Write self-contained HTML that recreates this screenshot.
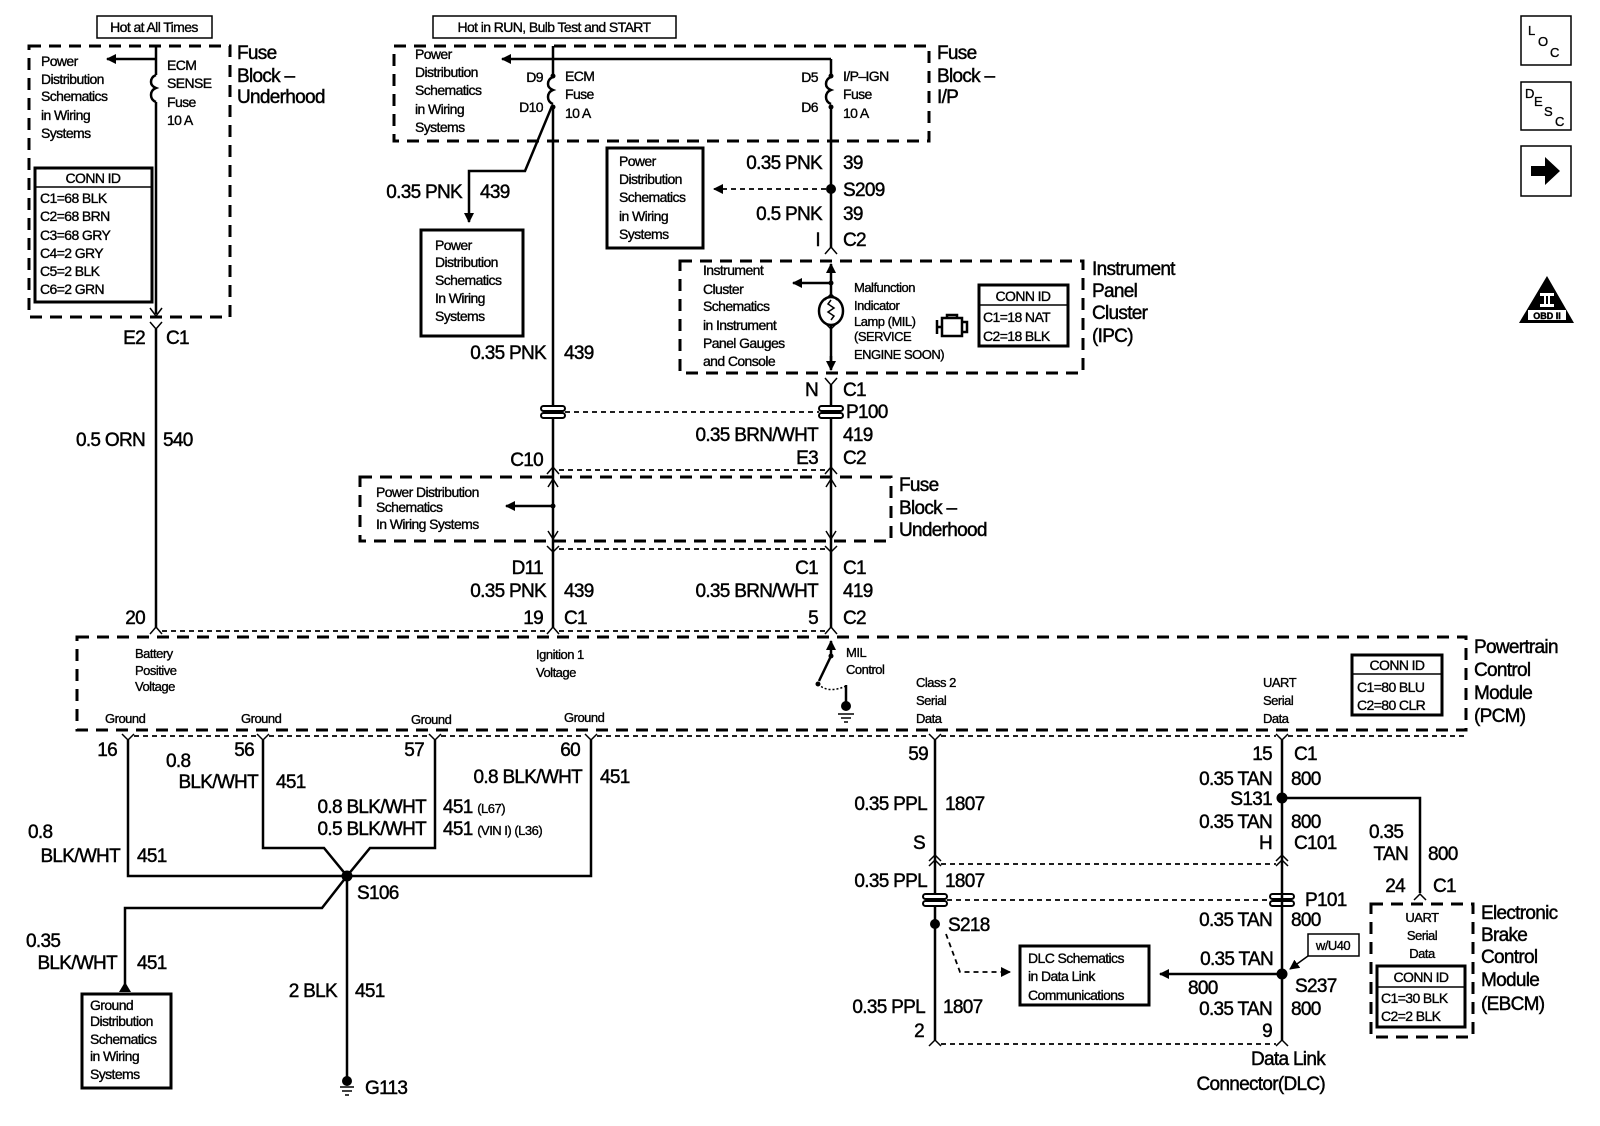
<!DOCTYPE html>
<html><head><meta charset="utf-8"><style>
html,body{margin:0;padding:0;background:#fff}
svg{display:block}
text{font-family:"Liberation Sans",Arial,sans-serif;fill:#000;stroke:#000;stroke-width:0.45px}
.L{font-size:19px;letter-spacing:-0.7px}
.S{font-size:14px;letter-spacing:-0.6px;stroke-width:0.35px}
.M{font-size:13px;letter-spacing:-0.5px;stroke-width:0.35px}
.w{stroke:#000;stroke-width:2.5;fill:none}
.t{stroke:#000;stroke-width:1.5;fill:none}
.db{stroke:#000;stroke-width:3;fill:none;stroke-dasharray:12 8}
.dl{stroke:#000;stroke-width:1.8;fill:none;stroke-dasharray:5 4}
.bx{stroke:#000;stroke-width:3;fill:#fff}
</style></head><body>
<svg width="1600" height="1126" viewBox="0 0 1600 1126" xmlns="http://www.w3.org/2000/svg">
<defs>
<marker id="ar" markerWidth="10" markerHeight="10" refX="9" refY="5" orient="auto" markerUnits="userSpaceOnUse"><path d="M0,0 L10,5 L0,10 z" fill="#000"/></marker>
</defs>

<rect x="97" y="16" width="115" height="22" class="t" stroke-width="2.5"/>
<text x="154" y="32" class="S" text-anchor="middle">Hot at All Times</text>
<rect x="433" y="16" width="243" height="22" class="t" stroke-width="2.5"/>
<text x="554" y="32" class="S" text-anchor="middle">Hot in RUN, Bulb Test and START</text>

<rect x="29" y="46" width="201" height="271" class="db"/>
<text x="237" y="59" class="L">Fuse</text>
<text x="237" y="82" class="L">Block –</text>
<text x="237" y="103" class="L">Underhood</text>
<text class="S"><tspan x="41" y="66">Power</tspan><tspan x="41" y="84">Distribution</tspan><tspan x="41" y="101">Schematics</tspan><tspan x="41" y="120">in Wiring</tspan><tspan x="41" y="138">Systems</tspan></text>
<text class="S"><tspan x="167" y="70">ECM</tspan><tspan x="167" y="88">SENSE</tspan><tspan x="167" y="107">Fuse</tspan><tspan x="167" y="125">10 A</tspan></text>
<path class="w" d="M156,46 V75 M156,102 V314"/>
<path class="w" d="M156,75 q-5,2 -5,7 q0,4 5,6 q-5,2 -5,7 q0,5 5,7"/>
<path class="w" d="M156,59 H107" marker-end="url(#ar)"/>
<path class="t" d="M150,308 L156,316 L162,308"/>
<rect x="35" y="168" width="117" height="134" class="bx"/>
<line x1="35" y1="187" x2="152" y2="187" class="t" stroke-width="2"/>
<text x="93" y="183" class="S" text-anchor="middle">CONN ID</text>
<text class="S"><tspan x="40" y="203">C1=68 BLK</tspan><tspan x="40" y="221">C2=68 BRN</tspan><tspan x="40" y="240">C3=68 GRY</tspan><tspan x="40" y="258">C4=2 GRY</tspan><tspan x="40" y="276">C5=2 BLK</tspan><tspan x="40" y="294">C6=2 GRN</tspan></text>
<path class="t" d="M150,322 L156,329 L162,322"/>
<text x="145" y="344" class="L" text-anchor="end">E2</text>
<text x="166" y="344" class="L">C1</text>
<path class="w" d="M156,329 V628"/>
<text x="145" y="446" class="L" text-anchor="end">0.5 ORN</text>
<text x="163" y="446" class="L">540</text>
<text x="145" y="624" class="L" text-anchor="end">20</text>

<rect x="394" y="46" width="535" height="95" class="db"/>
<text x="937" y="59" class="L">Fuse</text>
<text x="937" y="82" class="L">Block –</text>
<text x="937" y="103" class="L">I/P</text>
<text class="S"><tspan x="415" y="59">Power</tspan><tspan x="415" y="77">Distribution</tspan><tspan x="415" y="95">Schematics</tspan><tspan x="415" y="114">in Wiring</tspan><tspan x="415" y="132">Systems</tspan></text>
<path class="w" d="M831,59 H553" />
<path class="w" d="M553,59 H502" marker-end="url(#ar)"/>
<path class="w" d="M553,46 V77 M553,107 V411 M553,416 V628"/>
<path class="w" d="M553,77 q-5,2 -5,7 q0,4 5,6 q-5,2 -5,7 q0,5 5,7"/>
<circle cx="553" cy="76" r="2.5"/><circle cx="553" cy="107" r="2.5"/>
<text x="543" y="82" class="S" text-anchor="end">D9</text>
<text x="543" y="112" class="S" text-anchor="end">D10</text>
<text class="S"><tspan x="565" y="81">ECM</tspan><tspan x="565" y="99">Fuse</tspan><tspan x="565" y="118">10 A</tspan></text>
<path class="w" d="M831,59 V77 M831,107 V248"/>
<path class="w" d="M831,77 q-5,2 -5,7 q0,4 5,6 q-5,2 -5,7 q0,5 5,7"/>
<circle cx="831" cy="76" r="2.5"/><circle cx="831" cy="107" r="2.5"/>
<text x="818" y="82" class="S" text-anchor="end">D5</text>
<text x="818" y="112" class="S" text-anchor="end">D6</text>
<text class="S"><tspan x="843" y="81">I/P–IGN</tspan><tspan x="843" y="99">Fuse</tspan><tspan x="843" y="118">10 A</tspan></text>

<path class="w" d="M552,106 L525,171 H469 V222" marker-end="url(#ar)"/>
<text x="462" y="198" class="L" text-anchor="end">0.35 PNK</text>
<text x="480" y="198" class="L">439</text>
<rect x="421" y="230" width="102" height="106" class="bx"/>
<text class="S"><tspan x="435" y="250">Power</tspan><tspan x="435" y="267">Distribution</tspan><tspan x="435" y="285">Schematics</tspan><tspan x="435" y="303">In Wiring</tspan><tspan x="435" y="321">Systems</tspan></text>
<text x="546" y="359" class="L" text-anchor="end">0.35 PNK</text>
<text x="564" y="359" class="L">439</text>

<text x="822" y="169" class="L" text-anchor="end">0.35 PNK</text>
<text x="843" y="169" class="L">39</text>
<circle cx="831" cy="189" r="5"/>
<text x="843" y="196" class="L">S209</text>
<path class="dl" d="M826,189 H714" marker-end="url(#ar)"/>
<rect x="607" y="148" width="96" height="100" class="bx"/>
<text class="S"><tspan x="619" y="166">Power</tspan><tspan x="619" y="184">Distribution</tspan><tspan x="619" y="202">Schematics</tspan><tspan x="619" y="221">in Wiring</tspan><tspan x="619" y="239">Systems</tspan></text>
<text x="822" y="220" class="L" text-anchor="end">0.5 PNK</text>
<text x="843" y="220" class="L">39</text>
<text x="820" y="246" class="L" text-anchor="end">I</text>
<text x="843" y="246" class="L">C2</text>
<path class="t" d="M825,254 L831,247 L837,254"/>

<rect x="680" y="261" width="403" height="112" class="db"/>
<text class="L"><tspan x="1092" y="275">Instrument</tspan><tspan x="1092" y="297">Panel</tspan><tspan x="1092" y="319">Cluster</tspan><tspan x="1092" y="342">(IPC)</tspan></text>
<text class="S"><tspan x="703" y="275">Instrument</tspan><tspan x="703" y="294">Cluster</tspan><tspan x="703" y="311">Schematics</tspan><tspan x="703" y="330">in Instrument</tspan><tspan x="703" y="348">Panel Gauges</tspan><tspan x="703" y="366">and Console</tspan></text>
<path class="w" d="M831,283 V264" marker-end="url(#ar)"/>
<path class="w" d="M831,283 H793" marker-end="url(#ar)"/>
<circle cx="831" cy="283" r="2.5"/>
<path class="t" d="M825,300 L831,294 L837,300"/>
<path class="w" d="M831,283 V297 M831,325 V368" />
<path class="w" d="M831,356 V370" marker-end="url(#ar)"/>
<ellipse cx="831" cy="311" rx="12" ry="14" class="w"/>
<path class="t" d="M831,300 l-3,4 l6,4 l-6,4 l6,4 l-3,4"/>
<path class="t" d="M825,323 L831,329 L837,323"/>
<text class="M"><tspan x="854" y="292">Malfunction</tspan><tspan x="854" y="310">Indicator</tspan><tspan x="854" y="326">Lamp (MIL)</tspan><tspan x="854" y="341">(SERVICE</tspan><tspan x="854" y="359">ENGINE SOON)</tspan></text>
<path class="w" stroke-width="2.2" d="M937,320 v14 M937,327 h5 M942,318 h20 v18 h-20 z M947,318 v-3 h10 v3 M962,322 h5 v10 h-5"/>
<rect x="979" y="285" width="89" height="61" class="bx"/>
<line x1="979" y1="305" x2="1068" y2="305" class="t" stroke-width="2"/>
<text x="1023" y="301" class="S" text-anchor="middle">CONN ID</text>
<text class="S"><tspan x="983" y="322">C1=18 NAT</tspan><tspan x="983" y="341">C2=18 BLK</tspan></text>

<text x="818" y="396" class="L" text-anchor="end">N</text>
<path class="t" d="M825,378 L831,385 L837,378"/>
<path class="w" d="M831,385 V628"/>
<text x="843" y="396" class="L">C1</text>
<g stroke="#000" stroke-width="2" fill="#fff">
<rect x="541" y="406" width="24" height="5" rx="2.5"/><rect x="541" y="413" width="24" height="5" rx="2.5"/>
<rect x="819" y="406" width="24" height="5" rx="2.5"/><rect x="819" y="413" width="24" height="5" rx="2.5"/>
</g>
<path class="dl" d="M565,412 H819"/>
<text x="846" y="418" class="L">P100</text>
<text x="818" y="441" class="L" text-anchor="end">0.35 BRN/WHT</text>
<text x="843" y="441" class="L">419</text>
<text x="543" y="466" class="L" text-anchor="end">C10</text>
<text x="818" y="464" class="L" text-anchor="end">E3</text>
<text x="843" y="464" class="L">C2</text>
<path class="t" d="M547,474 L553,467 L559,474 M825,474 L831,467 L837,474"/>
<path class="dl" d="M559,470 H825"/>

<rect x="360" y="477" width="531" height="64" class="db"/>
<text class="L"><tspan x="899" y="491">Fuse</tspan><tspan x="899" y="514">Block –</tspan><tspan x="899" y="536">Underhood</tspan></text>
<text class="S"><tspan x="376" y="497">Power Distribution</tspan><tspan x="376" y="512">Schematics</tspan><tspan x="376" y="529">In Wiring Systems</tspan></text>
<path class="t" d="M548,487 L553,479 L558,487 M548,531 L553,539 L558,531 M826,487 L831,479 L836,487 M826,531 L831,539 L836,531"/>
<path class="w" d="M553,506 H506" marker-end="url(#ar)"/>
<circle cx="553" cy="506" r="2.5"/>
<path class="t" d="M547,546 L553,552 L559,546 M825,546 L831,552 L837,546"/>
<path class="dl" d="M559,549 H825"/>
<text x="543" y="574" class="L" text-anchor="end">D11</text>
<text x="818" y="574" class="L" text-anchor="end">C1</text>
<text x="843" y="574" class="L">C1</text>
<text x="546" y="597" class="L" text-anchor="end">0.35 PNK</text>
<text x="564" y="597" class="L">439</text>
<text x="818" y="597" class="L" text-anchor="end">0.35 BRN/WHT</text>
<text x="843" y="597" class="L">419</text>
<text x="543" y="624" class="L" text-anchor="end">19</text>
<text x="564" y="624" class="L">C1</text>
<text x="818" y="624" class="L" text-anchor="end">5</text>
<text x="843" y="624" class="L">C2</text>
<path class="t" d="M150,634 L156,627 L162,634 M547,634 L553,627 L559,634 M825,634 L831,627 L837,634"/>
<path class="dl" d="M162,631 H547 M559,631 H825"/>

<rect x="77" y="637" width="1389" height="93" class="db"/>
<text class="L"><tspan x="1474" y="653">Powertrain</tspan><tspan x="1474" y="676">Control</tspan><tspan x="1474" y="699">Module</tspan><tspan x="1474" y="722">(PCM)</tspan></text>
<text class="M"><tspan x="135" y="658">Battery</tspan><tspan x="135" y="675">Positive</tspan><tspan x="135" y="691">Voltage</tspan></text>
<text class="M"><tspan x="536" y="659">Ignition 1</tspan><tspan x="536" y="677">Voltage</tspan></text>
<text class="M"><tspan x="846" y="657">MIL</tspan><tspan x="846" y="674">Control</tspan></text>
<text class="M"><tspan x="916" y="687">Class 2</tspan><tspan x="916" y="705">Serial</tspan><tspan x="916" y="723">Data</tspan></text>
<text class="M"><tspan x="1263" y="687">UART</tspan><tspan x="1263" y="705">Serial</tspan><tspan x="1263" y="723">Data</tspan></text>
<text class="M" x="105" y="723">Ground</text>
<text class="M" x="241" y="723">Ground</text>
<text class="M" x="411" y="724">Ground</text>
<text class="M" x="564" y="722">Ground</text>
<path class="w" d="M831,654 V641" marker-end="url(#ar)"/>
<circle cx="831" cy="656" r="2.5"/>
<path class="w" d="M831,656 L819,681" />
<circle cx="818" cy="684" r="2.5"/>
<path class="t" stroke-dasharray="2 2" d="M818,684 q10,10 28,2"/>
<path class="w" d="M846,685 V705"/>
<circle cx="846" cy="706" r="5"/>
<path class="t" d="M838,714 h16 M841,718 h10 M844,722 h4"/>
<rect x="1352" y="655" width="90" height="60" class="bx"/>
<line x1="1352" y1="674" x2="1442" y2="674" class="t" stroke-width="2"/>
<text x="1397" y="670" class="S" text-anchor="middle">CONN ID</text>
<text class="S"><tspan x="1357" y="692">C1=80 BLU</tspan><tspan x="1357" y="710">C2=80 CLR</tspan></text>

<path class="t" d="M122,734 L128,740 L134,734 M257,734 L263,740 L269,734 M429,734 L435,740 L441,734 M585,734 L591,740 L597,734 M929,734 L935,740 L941,734 M1276,734 L1282,740 L1288,734"/>
<path class="dl" d="M134,736 H257 M269,736 H429 M441,736 H585 M597,736 H929 M941,736 H1276 M1288,736 H1466"/>
<path class="w" d="M128,740 V876 H591 V740"/>
<path class="w" d="M263,740 V848 H324 L347,876 L370,848 H435 V740"/>
<text x="117" y="756" class="L" text-anchor="end">16</text>
<text x="254" y="756" class="L" text-anchor="end">56</text>
<text x="424" y="756" class="L" text-anchor="end">57</text>
<text x="580" y="756" class="L" text-anchor="end">60</text>
<text x="166" y="767" class="L">0.8</text>
<text x="258" y="788" class="L" text-anchor="end">BLK/WHT</text>
<text x="276" y="788" class="L">451</text>
<text x="582" y="783" class="L" text-anchor="end">0.8 BLK/WHT</text>
<text x="600" y="783" class="L">451</text>
<text x="426" y="813" class="L" text-anchor="end">0.8 BLK/WHT</text>
<text x="443" y="813" class="L">451 <tspan class="M">(L67)</tspan></text>
<text x="426" y="835" class="L" text-anchor="end">0.5 BLK/WHT</text>
<text x="443" y="835" class="L">451 <tspan class="M">(VIN I) (L36)</tspan></text>
<text x="28" y="838" class="L">0.8</text>
<text x="120" y="862" class="L" text-anchor="end">BLK/WHT</text>
<text x="137" y="862" class="L">451</text>
<circle cx="347" cy="876" r="5.5"/>
<text x="357" y="899" class="L">S106</text>
<path class="w" d="M347,876 L322,908 H125 V987"/>
<path d="M119,992 L125,982 L131,992 z" fill="#000"/>
<text x="26" y="947" class="L">0.35</text>
<text x="117" y="969" class="L" text-anchor="end">BLK/WHT</text>
<text x="137" y="969" class="L">451</text>
<rect x="82" y="994" width="89" height="94" class="bx"/>
<text class="S"><tspan x="90" y="1010">Ground</tspan><tspan x="90" y="1026">Distribution</tspan><tspan x="90" y="1044">Schematics</tspan><tspan x="90" y="1061">in Wiring</tspan><tspan x="90" y="1079">Systems</tspan></text>
<path class="w" d="M347,876 V1080"/>
<text x="337" y="997" class="L" text-anchor="end">2 BLK</text>
<text x="355" y="997" class="L">451</text>
<circle cx="347" cy="1081" r="5"/>
<path class="t" d="M340,1087 h14 M342,1091 h10 M345,1095 h4"/>
<text x="365" y="1094" class="L">G113</text>

<path class="w" d="M935,740 V1040"/>
<text x="928" y="760" class="L" text-anchor="end">59</text>
<text x="927" y="810" class="L" text-anchor="end">0.35 PPL</text>
<text x="945" y="810" class="L">1807</text>
<text x="925" y="849" class="L" text-anchor="end">S</text>
<path class="t" d="M929,861 L935,855 L941,861 M929,866 L935,860 L941,866 M1276,861 L1282,855 L1288,861 M1276,866 L1282,860 L1288,866"/>
<path class="dl" d="M941,864 H1276"/>
<text x="927" y="887" class="L" text-anchor="end">0.35 PPL</text>
<text x="945" y="887" class="L">1807</text>
<g stroke="#000" stroke-width="2" fill="#fff">
<rect x="923" y="894" width="24" height="5" rx="2.5"/><rect x="923" y="901" width="24" height="5" rx="2.5"/>
<rect x="1270" y="894" width="24" height="5" rx="2.5"/><rect x="1270" y="901" width="24" height="5" rx="2.5"/>
</g>
<path class="dl" d="M947,900 H1270"/>
<text x="1305" y="906" class="L">P101</text>
<circle cx="935" cy="924" r="5"/>
<text x="948" y="931" class="L">S218</text>
<path class="dl" d="M946,934 L960,972 H1010" marker-end="url(#ar)"/>
<rect x="1020" y="946" width="129" height="59" class="bx"/>
<text class="S"><tspan x="1028" y="963">DLC Schematics</tspan><tspan x="1028" y="981">in Data Link</tspan><tspan x="1028" y="1000">Communications</tspan></text>
<text x="925" y="1013" class="L" text-anchor="end">0.35 PPL</text>
<text x="943" y="1013" class="L">1807</text>
<text x="924" y="1037" class="L" text-anchor="end">2</text>
<path class="t" d="M929,1046 L935,1040 L941,1046 M1276,1046 L1282,1040 L1288,1046"/>
<path class="dl" d="M941,1044 H1276"/>

<path class="w" d="M1282,740 V1040"/>
<text x="1272" y="760" class="L" text-anchor="end">15</text>
<text x="1294" y="760" class="L">C1</text>
<text x="1272" y="785" class="L" text-anchor="end">0.35 TAN</text>
<text x="1291" y="785" class="L">800</text>
<circle cx="1282" cy="798" r="5.5"/>
<text x="1272" y="805" class="L" text-anchor="end">S131</text>
<text x="1272" y="828" class="L" text-anchor="end">0.35 TAN</text>
<text x="1291" y="828" class="L">800</text>
<text x="1272" y="849" class="L" text-anchor="end">H</text>
<text x="1294" y="849" class="L">C101</text>
<path class="w" d="M1282,798 H1420 V893"/>
<text x="1369" y="838" class="L">0.35</text>
<text x="1408" y="860" class="L" text-anchor="end">TAN</text>
<text x="1428" y="860" class="L">800</text>
<text x="1405" y="892" class="L" text-anchor="end">24</text>
<text x="1433" y="892" class="L">C1</text>
<path class="t" d="M1414,900 L1420,894 L1426,900"/>
<rect x="1371" y="904" width="102" height="133" class="db"/>
<text class="L"><tspan x="1481" y="919">Electronic</tspan><tspan x="1481" y="941">Brake</tspan><tspan x="1481" y="963">Control</tspan><tspan x="1481" y="986">Module</tspan><tspan x="1481" y="1010">(EBCM)</tspan></text>
<text class="M" text-anchor="middle"><tspan x="1422" y="922">UART</tspan><tspan x="1422" y="940">Serial</tspan><tspan x="1422" y="958">Data</tspan></text>
<rect x="1377" y="966" width="88" height="61" class="bx"/>
<line x1="1377" y1="987" x2="1465" y2="987" class="t" stroke-width="2"/>
<text x="1421" y="982" class="S" text-anchor="middle">CONN ID</text>
<text class="S"><tspan x="1381" y="1003">C1=30 BLK</tspan><tspan x="1381" y="1021">C2=2 BLK</tspan></text>
<text x="1272" y="926" class="L" text-anchor="end">0.35 TAN</text>
<text x="1291" y="926" class="L">800</text>
<rect x="1308" y="934" width="51" height="22" class="t" stroke-width="2"/>
<text x="1333" y="950" class="M" text-anchor="middle">w/U40</text>
<path class="t" stroke-width="2" d="M1308,956 L1290,969" marker-end="url(#ar)"/>
<text x="1273" y="965" class="L" text-anchor="end">0.35 TAN</text>
<circle cx="1282" cy="974" r="5.5"/>
<path class="w" stroke-width="3.5" d="M1282,974 H1160" marker-end="url(#ar)"/>
<text x="1295" y="992" class="L">S237</text>
<text x="1188" y="994" class="L">800</text>
<text x="1272" y="1015" class="L" text-anchor="end">0.35 TAN</text>
<text x="1291" y="1015" class="L">800</text>
<text x="1272" y="1037" class="L" text-anchor="end">9</text>
<text x="1325" y="1065" class="L" text-anchor="end">Data Link</text>
<text x="1325" y="1090" class="L" text-anchor="end">Connector(DLC)</text>

<rect x="1521" y="16" width="50" height="49" class="t" stroke-width="3"/>
<text x="1528" y="35" class="M">L</text><text x="1538" y="46" class="M">O</text><text x="1550" y="57" class="M">C</text>
<rect x="1521" y="82" width="50" height="48" class="t" stroke-width="3"/>
<text x="1525" y="98" class="M">D</text><text x="1534" y="106" class="M">E</text><text x="1544" y="116" class="M">S</text><text x="1555" y="126" class="M">C</text>
<rect x="1521" y="146" width="50" height="50" class="t" stroke-width="3"/>
<path d="M1531,166 h14 v-9 l15,14 l-15,14 v-9 h-14 z" fill="#000"/>
<path d="M1547,276 L1574,323 L1519,323 z" fill="#000"/>
<rect x="1540" y="293" width="14" height="3" fill="#fff"/><rect x="1540" y="304" width="14" height="3" fill="#fff"/>
<rect x="1544" y="293" width="2" height="14" fill="#fff"/><rect x="1548" y="293" width="2" height="14" fill="#fff"/>
<rect x="1528" y="310" width="38" height="10" fill="#fff"/>
<text x="1547" y="319" font-size="9" text-anchor="middle" font-weight="bold" stroke-width="0">OBD II</text>
</svg>
</body></html>
